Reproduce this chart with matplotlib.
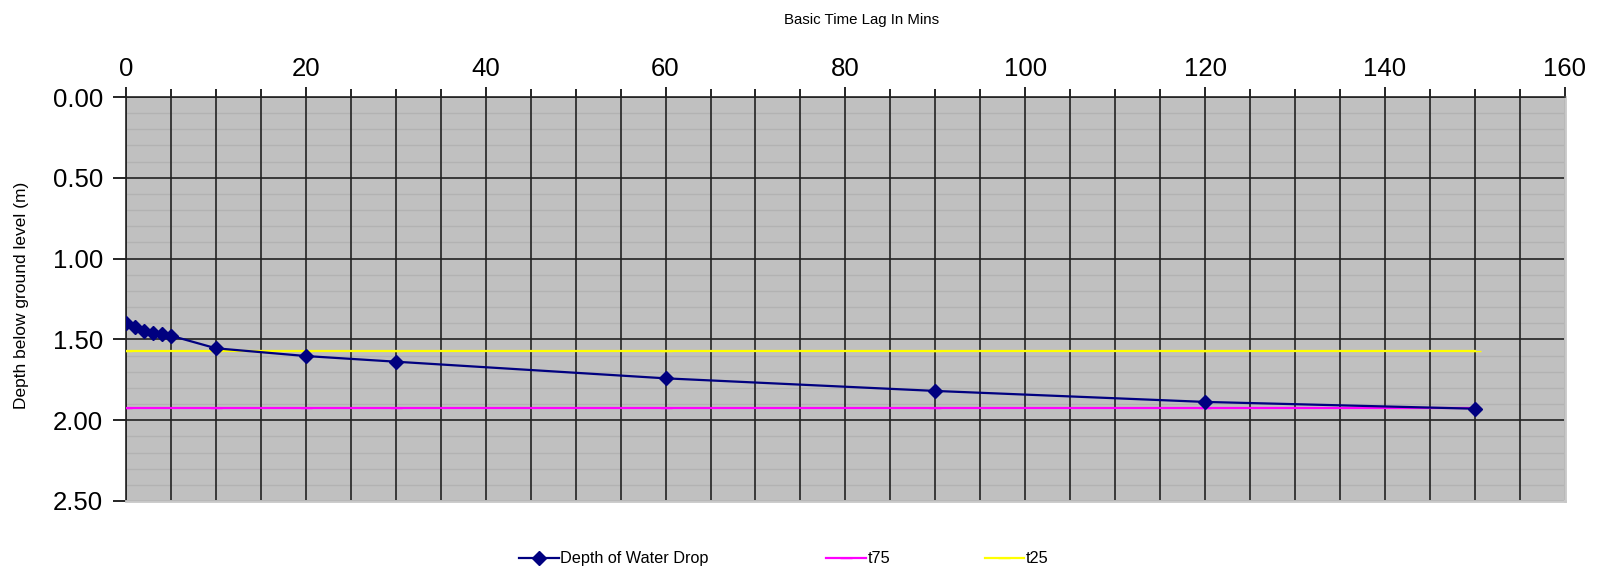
import numpy as np
import matplotlib.pyplot as plt
from matplotlib.ticker import MultipleLocator

plt.rcParams['font.family'] = ['Liberation Sans', 'DejaVu Sans']

# data
time_min = [0, 1, 2, 3, 4, 5, 10, 20, 30, 60, 90, 120, 150]
depth_m = [1.40, 1.425, 1.446, 1.458, 1.465, 1.477, 1.555, 1.603, 1.638,
           1.741, 1.819, 1.887, 1.929]
t75_level = 1.927
t25_level = 1.572
t_times = [0, 10, 20, 30, 60, 90, 120, 150]

fig = plt.figure(figsize=(15.98, 5.68), dpi=100)
ax = fig.add_axes([0.0788, 0.118, 0.9005, 0.7112])
ax.set_facecolor('#c0c0c0')

l_depth, = ax.plot(time_min, depth_m, color='#000080', lw=1.6, marker='D', ms=7,
                   label='Depth of Water Drop', zorder=4)
l_t75, = ax.plot(t_times, [t75_level] * len(t_times), color='#ff00ff', lw=1.6,
                 marker='_', ms=8, label='t75', zorder=3)
l_t25, = ax.plot(t_times, [t25_level] * len(t_times), color='#ffff00', lw=1.6,
                 marker='_', ms=8, label='t25', zorder=3)

ax.set_xlim(0, 160)
ax.set_ylim(2.5, 0)
ax.xaxis.tick_top()
ax.xaxis.set_major_locator(MultipleLocator(20))
ax.xaxis.set_minor_locator(MultipleLocator(5))
ax.yaxis.set_major_locator(MultipleLocator(0.5))
ax.yaxis.set_minor_locator(MultipleLocator(0.1))
ax.yaxis.set_major_formatter(plt.FormatStrFormatter('%.2f'))

# faint horizontal lines go underneath the vertical ones
ax.set_axisbelow(True)
ax.yaxis.set_zorder(0.4)
ax.xaxis.set_zorder(0.6)
ax.grid(True, which='major', axis='both', color='#222222', lw=1.2)
ax.grid(True, which='minor', axis='x', color='#222222', lw=1.2)
ax.grid(True, which='minor', axis='y', color='#b2b2b2', lw=1.0)

ax.tick_params(axis='x', which='major', length=7.5, width=1.2, labelsize=18.5, pad=4)
ax.tick_params(axis='x', which='minor', length=5.5, width=1.2)
ax.tick_params(axis='y', which='major', length=9.5, width=1.2, labelsize=18.5, pad=7)
ax.tick_params(axis='y', which='minor', length=0)

for side in ['top', 'left']:
    ax.spines[side].set_color('#222222')
    ax.spines[side].set_linewidth(1.2)
for side in ['bottom', 'right']:
    ax.spines[side].set_color('#c8c8c8')
    ax.spines[side].set_linewidth(2)

fig.text(0.539, 0.965, 'Basic Time Lag In Mins', ha='center', va='center', fontsize=10.8)
fig.text(0.0135, 0.48, 'Depth below ground level (m)', rotation=90,
         ha='center', va='center', fontsize=12.5)

# Excel spreads legend entries over equal slots, so place each one
for handle, x0 in zip([l_depth, l_t75, l_t25], [0.3246, 0.5172, 0.6161]):
    fig.legend(handles=[handle], loc='center left', bbox_to_anchor=(x0, 0.016),
               frameon=False, fontsize=11.7, handlelength=2.45, handletextpad=0.1,
               borderpad=0, borderaxespad=0)

fig.savefig('out.png', dpi=100)
